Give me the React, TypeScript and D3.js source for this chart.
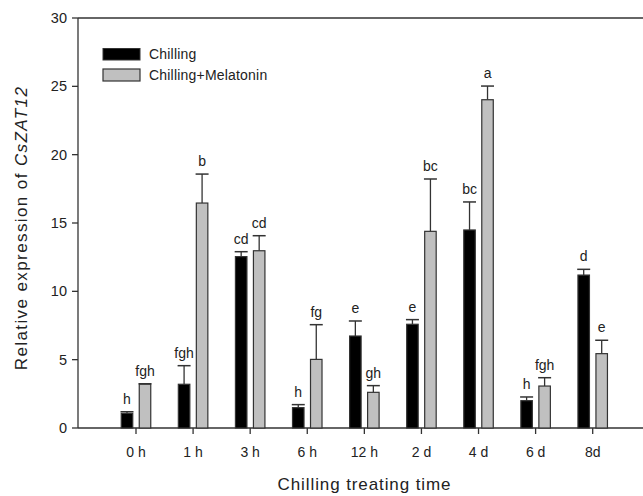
import React from "react";
import * as d3 from "d3";

const categories = ["0 h", "1 h", "3 h", "6 h", "12 h", "2 d", "4 d", "6 d", "8d"];
const chillingValues = [1.07, 3.2, 12.54, 1.49, 6.73, 7.59, 14.49, 2.0, 11.19];
const chillingErrors = [0.12, 1.36, 0.36, 0.22, 1.1, 0.34, 2.05, 0.27, 0.42];
const chillingLetters = ["h", "fgh", "cd", "h", "e", "e", "bc", "h", "d"];
const melatoninValues = [3.2, 16.46, 12.97, 5.02, 2.61, 14.39, 24.02, 3.07, 5.44];
const melatoninErrors = [0.04, 2.12, 1.1, 2.54, 0.49, 3.83, 1.0, 0.61, 0.98];
const melatoninLetters = ["fgh", "b", "cd", "fg", "gh", "bc", "a", "fgh", "e"];
const yTicks = [0, 5, 10, 15, 20, 25, 30];

export default function App() {
  const W = 643, H = 496;
  const left = 78, top = 18, bottom = 428;
  const y = d3.scaleLinear().domain([0, 30]).range([bottom, top]);
  const x = d3.scalePoint<string>().domain(categories).range([136, 592.7]);
  const barW = 11.5, off = 9;
  const axisColor = "#333";
  const font = "Arial, 'Liberation Sans', sans-serif";

  const bars = (vals: number[], errs: number[], letters: string[], dx: number, fill: string) =>
    vals.map((v, i) => {
      const cx = (x(categories[i]) as number) + dx;
      const yt = y(v), ye = y(v + errs[i]);
      return (
        <g key={i}>
          <line x1={cx} x2={cx} y1={yt} y2={ye} stroke={axisColor} strokeWidth={1.3} />
          <line x1={cx - 6.5} x2={cx + 6.5} y1={ye} y2={ye} stroke={axisColor} strokeWidth={1.5} />
          <rect x={cx - barW / 2} y={yt} width={barW} height={bottom - yt} fill={fill} stroke={axisColor} strokeWidth={1.2} />
          <text x={cx} y={ye - 8} textAnchor="middle" fontSize={14} fill="#222">{letters[i]}</text>
        </g>
      );
    });

  return (
    <svg width={W} height={H} style={{ position: "absolute", left: 0, top: 0 }} fontFamily={font}>
      <rect width={W} height={H} fill="#fff" />
      {/* frame */}
      <line x1={left} x2={W} y1={top} y2={top} stroke={axisColor} strokeWidth={1.3} />
      <line x1={left} x2={W} y1={bottom} y2={bottom} stroke={axisColor} strokeWidth={1.3} />
      <line x1={left} x2={left} y1={top} y2={bottom} stroke={axisColor} strokeWidth={1.3} />
      {yTicks.map((t) => (
        <g key={t}>
          <line x1={left - 6} x2={left} y1={y(t)} y2={y(t)} stroke={axisColor} strokeWidth={1.3} />
          <text x={left - 11} y={y(t)} dy="0.35em" textAnchor="end" fontSize={14.5} fill="#222">{t}</text>
        </g>
      ))}
      {categories.map((c) => (
        <g key={c}>
          <line x1={x(c)} x2={x(c)} y1={bottom} y2={bottom + 6} stroke={axisColor} strokeWidth={1.3} />
          <text x={x(c)} y={bottom + 29} textAnchor="middle" fontSize={14} fill="#222">{c}</text>
        </g>
      ))}
      {bars(chillingValues, chillingErrors, chillingLetters, -off, "#000")}
      {bars(melatoninValues, melatoninErrors, melatoninLetters, off, "#c0c0c0")}
      {/* legend */}
      <rect x={103} y={48.5} width={37} height={11.5} fill="#000" stroke={axisColor} strokeWidth={1} />
      <text x={149} y={54.5} dy="0.35em" fontSize={14} letterSpacing={0.2} fill="#222">Chilling</text>
      <rect x={103} y={69} width={37} height={12} fill="#c0c0c0" stroke={axisColor} strokeWidth={1.2} />
      <text x={149} y={75} dy="0.35em" fontSize={14} letterSpacing={0.2} fill="#222">Chilling+Melatonin</text>
      {/* axis titles */}
      <text transform={`translate(27, 228) rotate(-90)`} textAnchor="middle" fontSize={17} letterSpacing={1.4} fill="#222">
        Relative expression of <tspan fontStyle="italic">CsZAT12</tspan>
      </text>
      <text x={364.5} y={490} textAnchor="middle" fontSize={17} letterSpacing={0.9} fill="#222">Chilling treating time</text>
    </svg>
  );
}
